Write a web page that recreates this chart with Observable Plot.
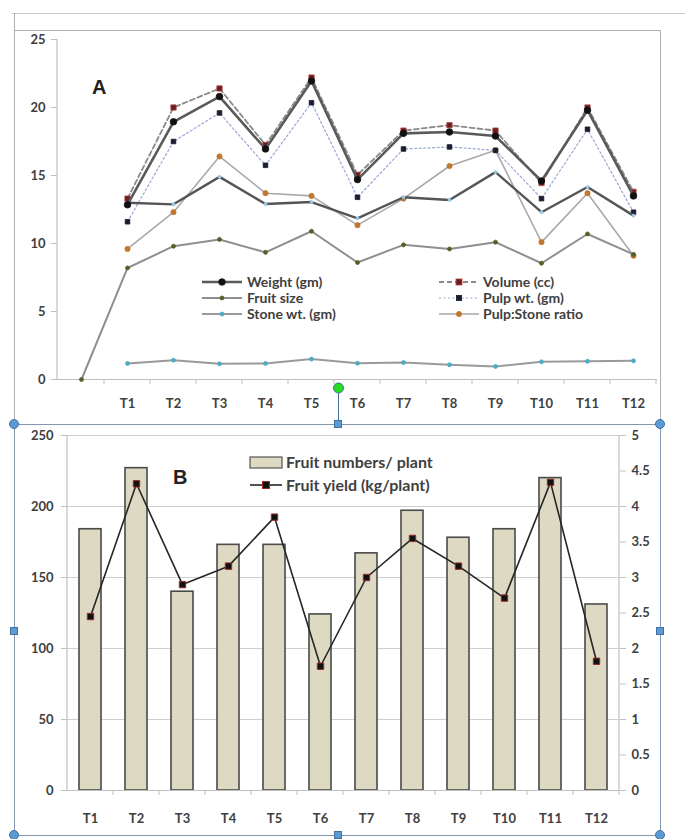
<!DOCTYPE html>
<html><head><meta charset="utf-8">
<script src="https://cdn.jsdelivr.net/npm/d3@7"></script>
<script src="https://cdn.jsdelivr.net/npm/@observablehq/plot@0.6"></script>
<style>
body{margin:0;background:#fff;}
#wrap{position:relative;width:685px;height:839px;overflow:hidden;font-family:Lato,"Open Sans",sans-serif;color:#404040;}
.abs{position:absolute;}
.lg{position:absolute;font-weight:bold;font-size:14px;line-height:14px;white-space:nowrap;color:#404040;}
.h-sq{position:absolute;width:8px;height:8px;background:#5b9bd5;border:1px solid #41719c;box-sizing:border-box;}
.h-ci{position:absolute;width:10px;height:10px;border-radius:50%;background:#5b9bd5;border:1px solid #41719c;box-sizing:border-box;}
</style></head><body><div id="wrap"></div>
<script>
// ---------- Data: panel A ----------
const categoriesA = ["", "T1", "T2", "T3", "T4", "T5", "T6", "T7", "T8", "T9", "T10", "T11", "T12"];
const weight    = [null, 12.85, 18.95, 20.8, 16.95, 21.95, 14.7, 18.1, 18.2, 17.9, 14.6, 19.8, 13.5];
const volume    = [null, 13.3, 20.0, 21.4, 17.25, 22.2, 15.05, 18.3, 18.7, 18.3, 14.45, 20.0, 13.8];
const fruitSize = [0, 8.2, 9.8, 10.3, 9.35, 10.9, 8.6, 9.9, 9.6, 10.1, 8.55, 10.7, 9.2];
const pulpWt    = [null, 11.6, 17.5, 19.6, 15.75, 20.35, 13.4, 16.95, 17.1, 16.85, 13.3, 18.4, 12.3];
const stoneWt   = [null, 1.18, 1.42, 1.15, 1.18, 1.5, 1.2, 1.25, 1.08, 0.96, 1.3, 1.34, 1.37];
const pulpStone = [null, 9.6, 12.3, 16.4, 13.7, 13.5, 11.35, 13.3, 15.7, 16.85, 10.1, 13.7, 9.1];
const unlabeled = [null, 13.0, 12.88, 14.9, 12.9, 13.05, 11.85, 13.4, 13.2, 15.25, 12.3, 14.15, 12.05];
const yTicksA = [0, 5, 10, 15, 20, 25];

// ---------- Data: panel B ----------
const categoriesB = ["T1", "T2", "T3", "T4", "T5", "T6", "T7", "T8", "T9", "T10", "T11", "T12"];
const fruitNumbers = [184, 227, 140, 173, 173, 124, 167, 197, 178, 184, 220, 131];
const fruitYield   = [2.45, 4.32, 2.9, 3.16, 3.85, 1.75, 3.0, 3.55, 3.16, 2.71, 4.34, 1.82];
const yTicksB  = [0, 50, 100, 150, 200, 250];
const yTicksB2 = [0, 0.5, 1, 1.5, 2, 2.5, 3, 3.5, 4, 4.5, 5];

const seriesA = [
  {key:"Pulp:Stone ratio", values:pulpStone, stroke:"#a9a9a9", sw:1.6, dash:null, mfill:"#c0772e", mstroke:"#c0772e", sym:"circle", r:2.6, col:1, row:2},
  {key:"Stone wt. (gm)", values:stoneWt, stroke:"#9a9a9a", sw:2, dash:null, mfill:"#4bacc6", mstroke:"#4bacc6", sym:"circle", r:2, col:0, row:2},
  {key:"Fruit size", values:fruitSize, stroke:"#8f8f8f", sw:2, dash:null, mfill:"#4f6228", mstroke:"#4f6228", sym:"circle", r:2, col:0, row:1},
  {key:"Pulp wt. (gm)", values:pulpWt, stroke:"#9aa6d6", sw:1.2, dash:"2,2.5", mfill:"#1c1c30", mstroke:"#1c1c30", sym:"square", r:2.6, col:1, row:1},
  {key:"", values:unlabeled, stroke:"#555", sw:2.4, dash:null, mfill:"#9ccbe3", mstroke:"#9ccbe3", sym:"circle", r:1.5},
  {key:"Volume (cc)", values:volume, stroke:"#8a8a8a", sw:1.8, dash:"5,3", mfill:"#6b1d1d", mstroke:"#b54646", sym:"square", r:3, col:1, row:0},
  {key:"Weight (gm)", values:weight, stroke:"#5a5a5a", sw:2.6, dash:null, mfill:"#111", mstroke:"#111", sym:"circle", r:3.3, col:0, row:0}
];

const wrap = document.getElementById("wrap");
const font = 'Lato,"Open Sans",sans-serif';

// ---------- Panel A ----------
const marksA = [
  Plot.ruleY([0], {stroke:"#bfbfbf", strokeWidth:1.2}),
  Plot.axisY({ticks:yTicksA, tickSize:6, tickPadding:6, stroke:"#bfbfbf", fill:"#404040", tickFormat:d=>String(d), label:null}),
  Plot.axisX({tickSize:0, tickPadding:19, fill:"#404040", label:null})
];
seriesA.forEach((s, si) => {
  const rows = [];
  s.values.forEach((v, i) => { if (v != null) rows.push({cat:categoriesA[i], v}); });
  marksA.push(Plot.line(rows, {x:"cat", y:"v", stroke:s.stroke, strokeWidth:s.sw, strokeDasharray:s.dash || undefined, curve:"linear"}));
  marksA.push(Plot.dot(rows, {x:"cat", y:"v", symbol:s.sym, r:s.r, fill:s.mfill, stroke:s.mstroke, strokeWidth:0.8}));
});
const A = Plot.plot({
  width:685, height:420, marginLeft:57, marginRight:28, marginTop:39, marginBottom:41,
  x:{type:"point", domain:categoriesA, padding:0.5, label:null},
  y:{domain:[0,25], label:null},
  style:{fontFamily:font, fontSize:"13px", fontWeight:"bold", background:"transparent", overflow:"visible"},
  marks:marksA
});
A.classList.add("abs"); A.style.left="0px"; A.style.top="0px";
wrap.appendChild(A);
{
  const xs = A.scale("x"), ys = A.scale("y");
  const step = xs.apply("T2") - xs.apply("T1");
  const svg = d3.select(A);
  svg.append("line").attr("x1",57).attr("x2",57).attr("y1",ys.apply(25)).attr("y2",ys.apply(0)).attr("stroke","#bfbfbf").attr("stroke-width",1.2);
  categoriesA.forEach(c => {
    const x = xs.apply(c) + step/2;
    svg.append("line").attr("x1",x).attr("x2",x).attr("y1",ys.apply(0)).attr("y2",ys.apply(0)+5).attr("stroke","#bfbfbf");
  });
}

// ---------- Panel B (bars, left axis) ----------
const rowsB = categoriesB.map((c,i)=>({cat:c, n:fruitNumbers[i], y:fruitYield[i]}));
const B1 = Plot.plot({
  width:685, height:419, marginLeft:67, marginRight:66, marginTop:15, marginBottom:49,
  x:{type:"band", domain:categoriesB, paddingInner:0.53, paddingOuter:0.265, label:null},
  y:{domain:[0,250], label:null},
  style:{fontFamily:font, fontSize:"13px", fontWeight:"bold", background:"transparent", overflow:"visible"},
  marks:[
    Plot.gridY(yTicksB.filter(d=>d>0), {stroke:"#cfcfcf", strokeOpacity:1, strokeWidth:1.2}),
    Plot.barY(rowsB, {x:"cat", y:"n", fill:"#ddd9c3", stroke:"#4a4a4a", strokeWidth:1.6}),
    Plot.ruleY([0], {stroke:"#bfbfbf", strokeWidth:1.2}),
    Plot.axisY({ticks:yTicksB, tickSize:6, tickPadding:8, stroke:"#bfbfbf", fill:"#404040", tickFormat:d=>String(d), label:null}),
    Plot.axisX({tickSize:0, tickPadding:23, fill:"#404040", label:null})
  ]
});
B1.classList.add("abs"); B1.style.left="0px"; B1.style.top="420px";
wrap.appendChild(B1);

// ---------- Panel B (yield line, right axis) ----------
const B2 = Plot.plot({
  width:685, height:419, marginLeft:67, marginRight:66, marginTop:15, marginBottom:49,
  x:{type:"band", domain:categoriesB, paddingInner:0.53, paddingOuter:0.265, axis:null, label:null},
  y:{domain:[0,5], axis:null, label:null},
  style:{fontFamily:font, fontSize:"13px", fontWeight:"bold", background:"transparent", overflow:"visible"},
  marks:[
    Plot.axisY({anchor:"right", ticks:yTicksB2, tickSize:6, tickPadding:6, stroke:"#bfbfbf", fill:"#404040", tickFormat:d=>String(d), label:null}),
    Plot.line(rowsB, {x:"cat", y:"y", stroke:"#262626", strokeWidth:1.6}),
    Plot.dot(rowsB, {x:"cat", y:"y", symbol:"square", r:3.6, fill:"#111", stroke:"#9b2a2a", strokeWidth:1})
  ]
});
B2.classList.add("abs"); B2.style.left="0px"; B2.style.top="420px";
wrap.appendChild(B2);
{
  const xs = B1.scale("x"), ys = B1.scale("y");
  const step = xs.apply("T2") - xs.apply("T1");
  const x0 = xs.apply("T1") + xs.bandwidth/2 - step/2;
  const svg = d3.select(B1);
  const y0 = ys.apply(0), y1 = ys.apply(250);
  svg.append("line").attr("x1",x0).attr("x2",x0).attr("y1",y1).attr("y2",y0).attr("stroke","#bfbfbf").attr("stroke-width",1.2);
  const xr = x0 + step*categoriesB.length;
  svg.append("line").attr("x1",xr).attr("x2",xr).attr("y1",y1).attr("y2",y0).attr("stroke","#bfbfbf").attr("stroke-width",1.2);
  categoriesB.forEach((c,i) => {
    const x = x0 + step*(i+1);
    svg.append("line").attr("x1",x).attr("x2",x).attr("y1",y0).attr("y2",y0+5).attr("stroke","#bfbfbf");
  });
}

// ---------- Frames / decorations ----------
const deco = d3.select(wrap).append("svg").attr("class","abs").attr("width",685).attr("height",839)
  .style("left","0px").style("top","0px").style("pointer-events","none");
deco.append("line").attr("x1",12).attr("x2",685).attr("y1",13.5).attr("y2",13.5).attr("stroke","#c8c8c8");
deco.append("line").attr("x1",14.5).attr("x2",14.5).attr("y1",13).attr("y2",424).attr("stroke","#b0b0b0");
deco.append("line").attr("x1",14).attr("x2",660).attr("y1",30.5).attr("y2",30.5).attr("stroke","#b0b0b0");
deco.append("line").attr("x1",660.5).attr("x2",660.5).attr("y1",30).attr("y2",424).attr("stroke","#b0b0b0");
// selection frame of panel B
deco.append("rect").attr("x",14.5).attr("y",424.5).attr("width",646).attr("height",411).attr("fill","none").attr("stroke","#8497b0");
deco.append("line").attr("x1",338.5).attr("x2",338.5).attr("y1",393).attr("y2",424).attr("stroke","#41719c");
deco.append("circle").attr("cx",338.5).attr("cy",388).attr("r",5).attr("fill","#22dd22").attr("stroke","#41719c");

function addDiv(cls, x, y){ const d=document.createElement("div"); d.className=cls; d.style.left=x+"px"; d.style.top=y+"px"; wrap.appendChild(d); }
[[14,424],[660,424],[14,835],[660,835]].forEach(([x,y])=>addDiv("h-ci", x-5, y-5));
[[338,424],[14,631],[660,631],[338,835]].forEach(([x,y])=>addDiv("h-sq", x-4, y-4));

// ---------- Panel labels ----------
function addText(txt, x, y, size){ const d=document.createElement("div"); d.className="lg"; d.textContent=txt; d.style.left=x+"px"; d.style.top=(y-size/2)+"px"; d.style.fontSize=size+"px"; d.style.lineHeight=size+"px"; d.style.fontFamily="Liberation Sans, Arial, sans-serif"; d.style.color="#222"; wrap.appendChild(d); }
addText("A", 92, 87, 20);
addText("B", 173, 477, 20);

// ---------- Legend A ----------
const rowY = [282, 298, 314];
const colX = [{s:202, t:247}, {s:439, t:483}];
seriesA.filter(s=>s.key).forEach(s => {
  const cx = colX[s.col], y = rowY[s.row];
  const g = deco.append("g");
  g.append("line").attr("x1",cx.s).attr("x2",cx.s+40).attr("y1",y).attr("y2",y)
    .attr("stroke",s.stroke).attr("stroke-width",s.sw).attr("stroke-dasharray",s.dash);
  const mx = cx.s+20;
  if (s.sym === "square") g.append("rect").attr("x",mx-s.r).attr("y",y-s.r).attr("width",2*s.r).attr("height",2*s.r).attr("fill",s.mfill).attr("stroke",s.mstroke).attr("stroke-width",0.8);
  else g.append("circle").attr("cx",mx).attr("cy",y).attr("r",s.r).attr("fill",s.mfill).attr("stroke",s.mstroke).attr("stroke-width",0.8);
  const d = document.createElement("div"); d.className="lg"; d.textContent=s.key;
  d.style.left=cx.t+"px"; d.style.top=(y-7)+"px"; wrap.appendChild(d);
});

// ---------- Legend B ----------
deco.append("rect").attr("x",250).attr("y",457).attr("width",32).attr("height",11).attr("fill","#ddd9c3").attr("stroke","#555").attr("stroke-width",1.2);
deco.append("line").attr("x1",250).attr("x2",282).attr("y1",485).attr("y2",485).attr("stroke","#262626").attr("stroke-width",1.6);
deco.append("rect").attr("x",262.5).attr("y",481.5).attr("width",7).attr("height",7).attr("fill","#111").attr("stroke","#9b2a2a");
[["Fruit numbers/ plant",462],["Fruit yield (kg/plant)",485]].forEach(([t,y])=>{
  const d=document.createElement("div"); d.className="lg"; d.textContent=t; d.style.left="286px"; d.style.top=(y-8)+"px"; d.style.fontSize="16px"; d.style.lineHeight="16px"; wrap.appendChild(d);
});
</script></body></html>
